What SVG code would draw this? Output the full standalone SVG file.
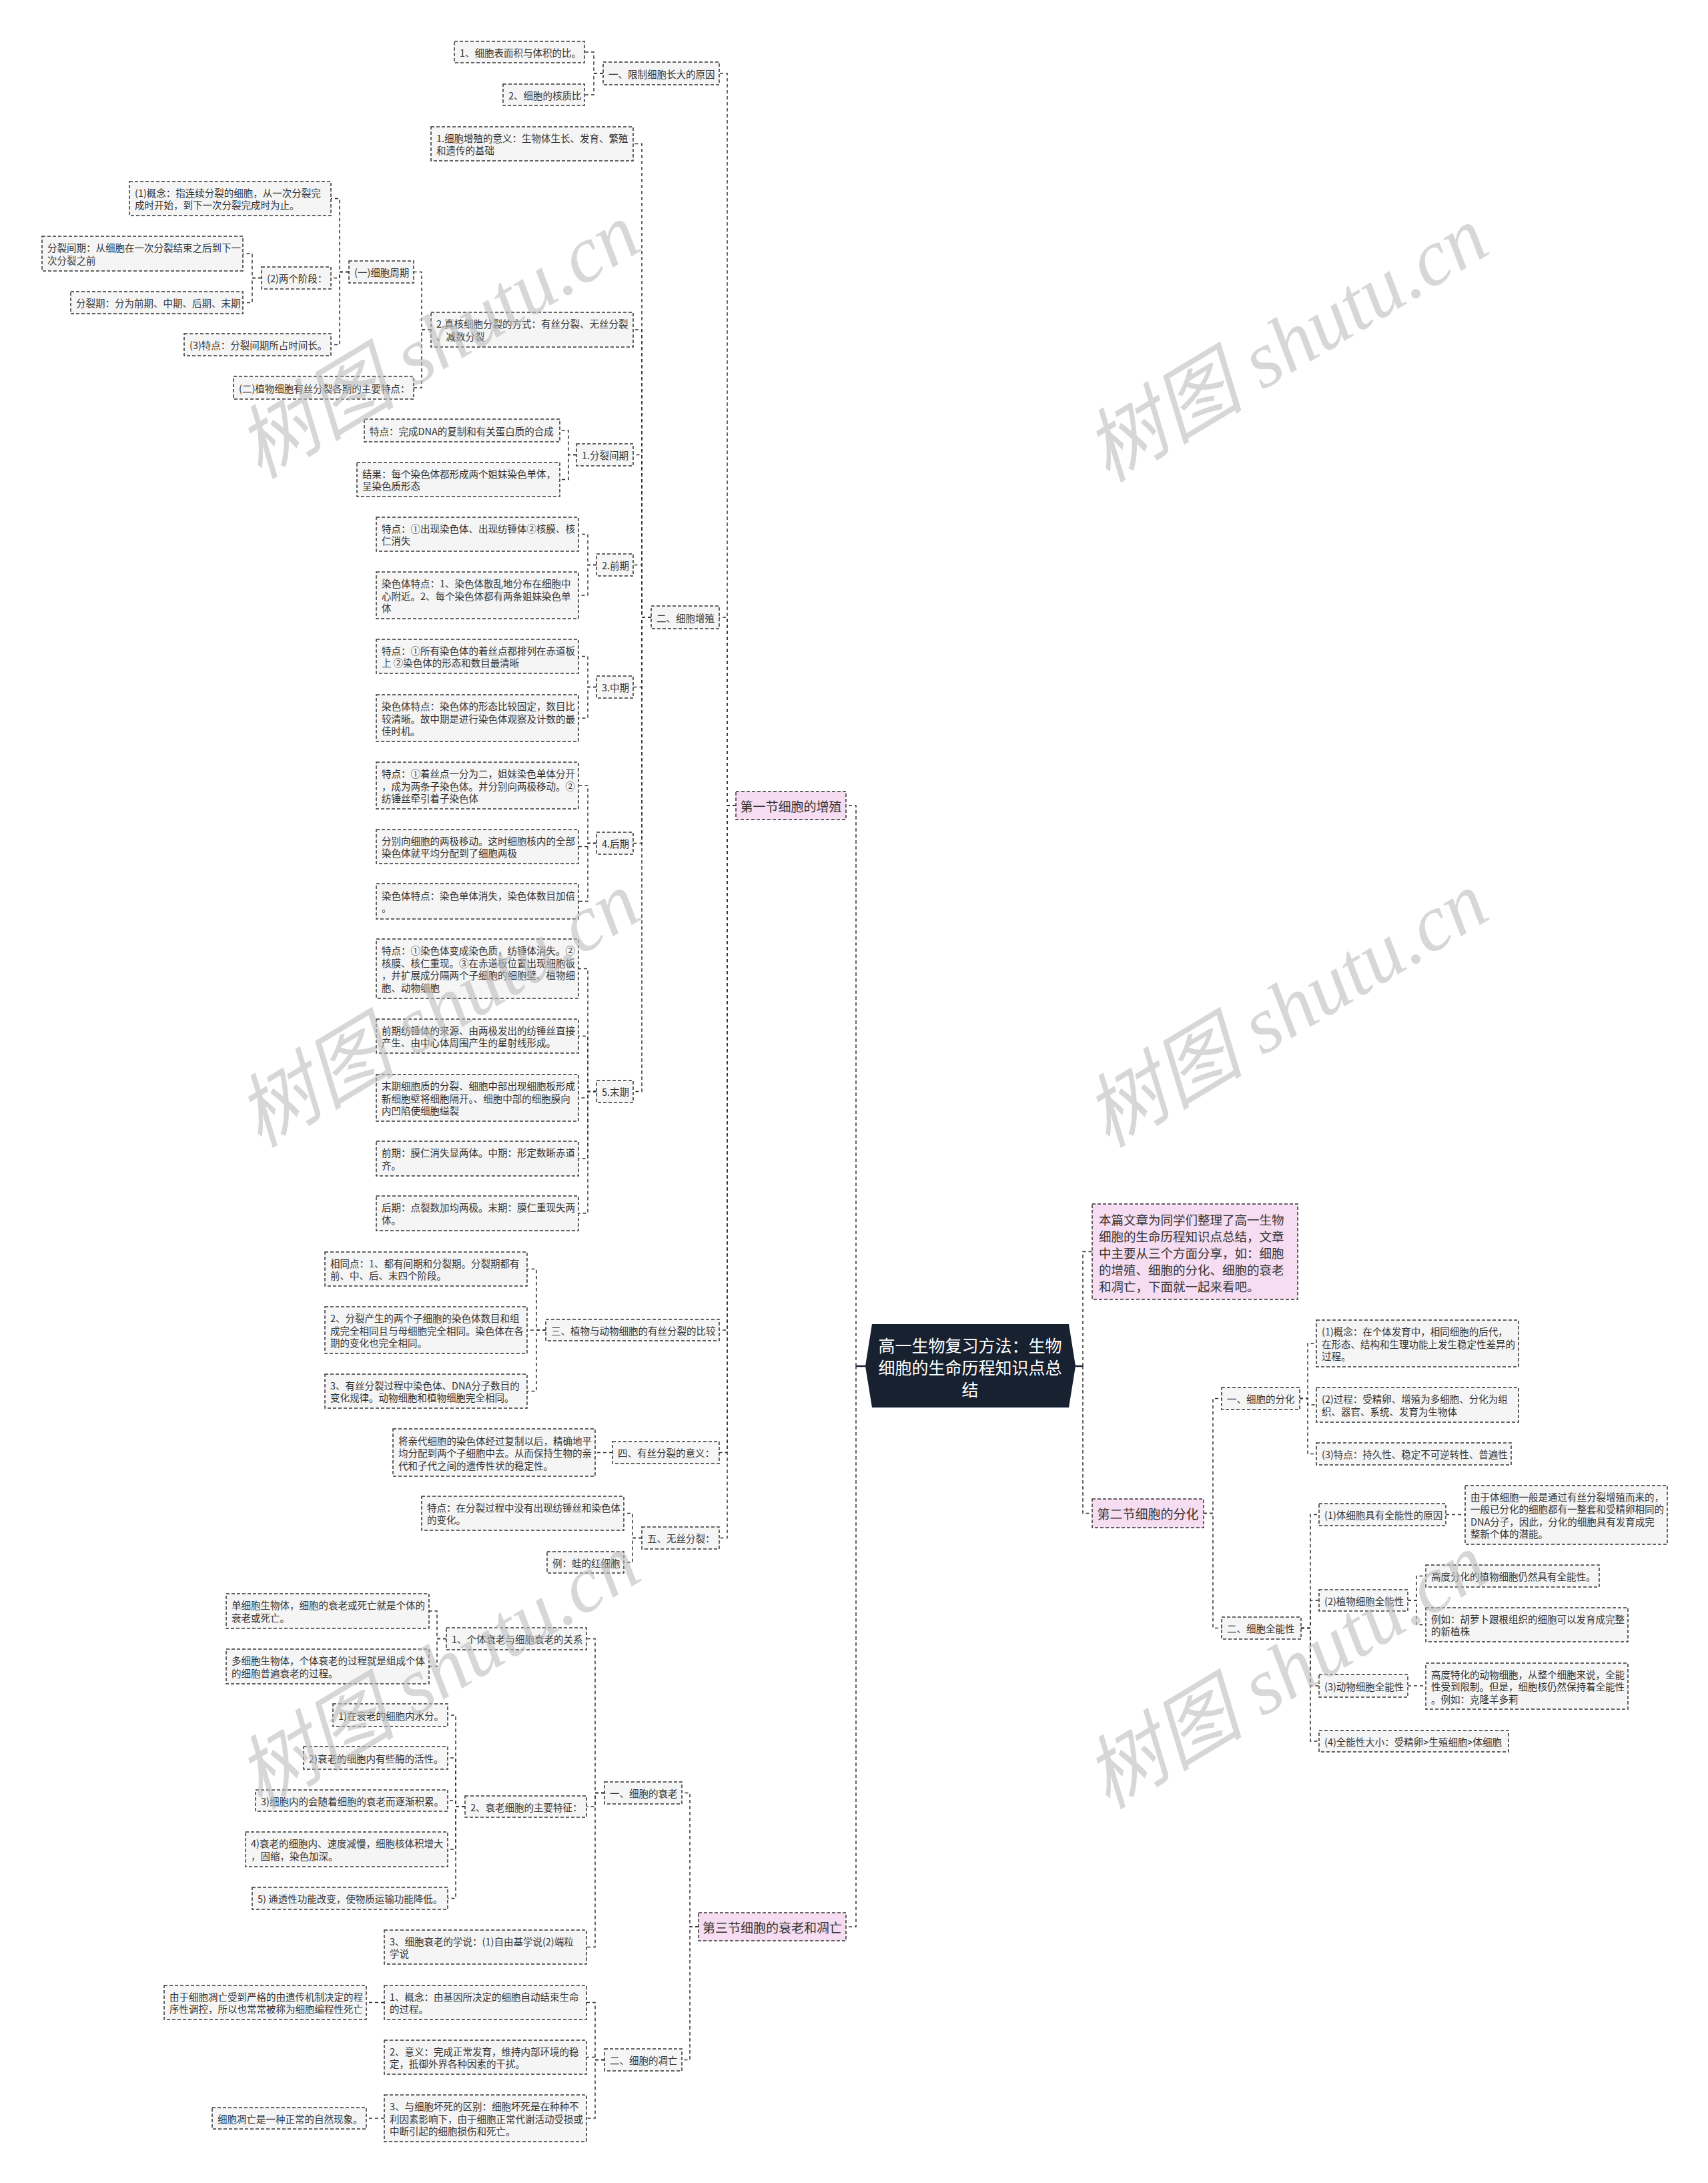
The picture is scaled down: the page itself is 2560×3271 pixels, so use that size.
<svg xmlns="http://www.w3.org/2000/svg" width="2560" height="3271" viewBox="0 0 2560 3271">
<style>
.n rect{fill:#f5f5f5;stroke:#333;stroke-width:1.5;stroke-dasharray:5 3}
.s rect{fill:#f7ddf1;stroke:#333;stroke-width:1.5;stroke-dasharray:5 3}
text{font-family:"Noto Sans CJK SC","Liberation Sans",sans-serif;dominant-baseline:central;fill:#333}
.n text{font-size:14.5px}
.s text{font-size:19px;text-anchor:middle}
.it text{font-size:18.5px;text-anchor:start}
.root text{font-size:25px;fill:#fff;text-anchor:middle}
#conn path{fill:none;stroke:#333;stroke-width:1.5;stroke-dasharray:5 4}
#conn path.solid{stroke:#172130;stroke-width:2.5;stroke-dasharray:none}
.wm text{font-size:120px;fill:#bdbdbd;fill-opacity:0.6;text-anchor:middle;font-family:"Liberation Serif","Noto Sans CJK SC",serif;font-style:italic}
</style>
<rect width="2560" height="3271" fill="#fff"/>
<g id="conn">
<path class="solid" d="M1297 2047H1283"/>
<path class="solid" d="M1612 2047H1623"/>
<path d="M1283 2047V1207H1268"/><path d="M1283 2047V2887H1268"/>
<path d="M1623 2047V1875.5H1637"/><path d="M1623 2047V2267.5H1637"/>
<path d="M1103 1207H1090V110H1078"/><path d="M1103 1207H1090V925H1078"/><path d="M1103 1207H1090V1993H1078"/><path d="M1103 1207H1090V2176.5H1078"/><path d="M1103 1207H1090V2304.5H1078"/>
<path d="M904 110H890V78H876"/><path d="M904 110H890V142H876"/>
<path d="M976 925H962V215.5H949"/><path d="M976 925H962V494H949"/><path d="M976 925H962V681.5H949"/><path d="M976 925H962V846.5H949"/><path d="M976 925H962V1029.5H949"/><path d="M976 925H962V1263.5H949"/><path d="M976 925H962V1635.5H949"/>
<path d="M646 494H632V407.5H620"/><path d="M646 494H632V581H620"/>
<path d="M523 407.5H509V297.5H496"/><path d="M523 407.5H509V416.5H496"/><path d="M523 407.5H509V516.5H496"/>
<path d="M392 416.5H378V380H364"/><path d="M392 416.5H378V453.5H364"/>
<path d="M864 681.5H852V645H839"/><path d="M864 681.5H852V718.5H839"/>
<path d="M894 846.5H881V800.5H867"/><path d="M894 846.5H881V892H867"/>
<path d="M894 1029.5H881V983.5H867"/><path d="M894 1029.5H881V1076H867"/>
<path d="M894 1263.5H881V1177H867"/><path d="M894 1263.5H881V1268.5H867"/><path d="M894 1263.5H881V1350.5H867"/>
<path d="M894 1635.5H881V1451.5H867"/><path d="M894 1635.5H881V1552.5H867"/><path d="M894 1635.5H881V1645H867"/><path d="M894 1635.5H881V1736H867"/><path d="M894 1635.5H881V1818H867"/>
<path d="M818 1993H804V1901.5H790"/><path d="M818 1993H804V1993H790"/><path d="M818 1993H804V2084.5H790"/>
<path d="M918 2176.5H892"/>
<path d="M962 2304.5H948V2267.5H935"/><path d="M962 2304.5H948V2341H935"/>
<path d="M1047 2887H1034V2686.5H1022"/><path d="M1047 2887H1034V3086.5H1022"/>
<path d="M906 2686.5H892V2455.5H879"/><path d="M906 2686.5H892V2707H879"/><path d="M906 2686.5H892V2917.5H879"/>
<path d="M669 2455.5H655V2414H643"/><path d="M669 2455.5H655V2497H643"/>
<path d="M697 2707H683V2570H671"/><path d="M697 2707H683V2634H671"/><path d="M697 2707H683V2698H671"/><path d="M697 2707H683V2771H671"/><path d="M697 2707H683V2844.5H671"/>
<path d="M906 3086.5H892V3000.5H879"/><path d="M906 3086.5H892V3082.5H879"/><path d="M906 3086.5H892V3174H879"/>
<path d="M576 3000.5H549"/><path d="M576 3174H549"/>
<path d="M1804 2267.5H1818V2095.5H1831"/><path d="M1804 2267.5H1818V2439.5H1831"/>
<path d="M1948 2095.5H1960V2013H1973"/><path d="M1948 2095.5H1960V2105H1973"/><path d="M1948 2095.5H1960V2178.5H1973"/>
<path d="M1950 2439.5H1964V2269.5H1977"/><path d="M1950 2439.5H1964V2398H1977"/><path d="M1950 2439.5H1964V2526H1977"/><path d="M1950 2439.5H1964V2609H1977"/>
<path d="M2167 2269.5H2196"/>
<path d="M2110 2398H2123V2361.5H2137"/><path d="M2110 2398H2123V2434.5H2137"/>
<path d="M2110 2526H2137"/>
</g>
<g id="root" class="root"><polygon points="1307,1984 1602,1984 1612,2047 1602,2109 1307,2109 1297,2047" fill="#172130"/><text x="1454" y="2015">高一生物复习方法：生物</text><text x="1454" y="2048">细胞的生命历程知识点总</text><text x="1454" y="2081">结</text></g>
<g id="intro" class="s it"><rect x="1637" y="1804" width="308" height="143"/><text x="1647" y="1827">本篇文章为同学们整理了高一生物</text><text x="1647" y="1852">细胞的生命历程知识点总结，文章</text><text x="1647" y="1877">中主要从三个方面分享，如：细胞</text><text x="1647" y="1902">的增殖、细胞的分化、细胞的衰老</text><text x="1647" y="1927">和凋亡，下面就一起来看吧。</text></g>
<g id="s1" class="s"><rect x="1103" y="1186" width="165" height="42"/><text x="1185.5" y="1207">第一节细胞的增殖</text></g>
<g id="s2" class="s"><rect x="1637" y="2246" width="167" height="43"/><text x="1720.5" y="2267.5">第二节细胞的分化</text></g>
<g id="s3" class="s"><rect x="1047" y="2866" width="221" height="42"/><text x="1157.5" y="2887">第三节细胞的衰老和凋亡</text></g>
<g id="A" class="n"><rect x="904" y="93" width="174" height="34"/><text x="912" y="110">一、限制细胞长大的原因</text></g>
<g id="A1" class="n"><rect x="681" y="62" width="195" height="32"/><text x="689" y="78">1、细胞表面积与体积的比。</text></g>
<g id="A2" class="n"><rect x="754" y="126" width="122" height="32"/><text x="762" y="142">2、细胞的核质比</text></g>
<g id="B" class="n"><rect x="976" y="908" width="102" height="34"/><text x="984" y="925">二、细胞增殖</text></g>
<g id="B1" class="n"><rect x="646" y="190" width="303" height="51"/><text x="654" y="206.25">1.细胞增殖的意义：生物体生长、发育、繁殖</text><text x="654" y="224.75">和遗传的基础</text></g>
<g id="B2" class="n"><rect x="646" y="468" width="303" height="52"/><text x="654" y="484.75">2.真核细胞分裂的方式：有丝分裂、无丝分裂</text><text x="654" y="503.25">、减数分裂</text></g>
<g id="C" class="n"><rect x="523" y="391" width="97" height="33"/><text x="531" y="407.5">(一)细胞周期</text></g>
<g id="C1" class="n"><rect x="194" y="272" width="302" height="51"/><text x="202" y="288.25">(1)概念：指连续分裂的细胞，从一次分裂完</text><text x="202" y="306.75">成时开始，到下一次分裂完成时为止。</text></g>
<g id="C2" class="n"><rect x="392" y="400" width="104" height="33"/><text x="400" y="416.5">(2)两个阶段：</text></g>
<g id="C2a" class="n"><rect x="63" y="354" width="301" height="52"/><text x="71" y="370.75">分裂间期：从细胞在一次分裂结束之后到下一</text><text x="71" y="389.25">次分裂之前</text></g>
<g id="C2b" class="n"><rect x="106" y="437" width="258" height="33"/><text x="114" y="453.5">分裂期：分为前期、中期、后期、末期</text></g>
<g id="C3" class="n"><rect x="276" y="500" width="220" height="33"/><text x="284" y="516.5">(3)特点：分裂间期所占时间长。</text></g>
<g id="C4" class="n"><rect x="350" y="564" width="270" height="34"/><text x="358" y="581">(二)植物细胞有丝分裂各期的主要特点：</text></g>
<g id="D1" class="n"><rect x="864" y="665" width="85" height="33"/><text x="872" y="681.5">1.分裂间期</text></g>
<g id="D1a" class="n"><rect x="546" y="628" width="293" height="34"/><text x="554" y="645">特点：完成DNA的复制和有关蛋白质的合成</text></g>
<g id="D1b" class="n"><rect x="535" y="693" width="304" height="51"/><text x="543" y="709.25">结果：每个染色体都形成两个姐妹染色单体，</text><text x="543" y="727.75">呈染色质形态</text></g>
<g id="D2" class="n"><rect x="894" y="830" width="55" height="33"/><text x="902" y="846.5">2.前期</text></g>
<g id="D2a" class="n"><rect x="564" y="775" width="303" height="51"/><text x="572" y="791.25">特点：①出现染色体、出现纺锤体②核膜、核</text><text x="572" y="809.75">仁消失</text></g>
<g id="D2b" class="n"><rect x="564" y="857" width="303" height="70"/><text x="572" y="873.5">染色体特点：1、染色体散乱地分布在细胞中</text><text x="572" y="892">心附近。2、每个染色体都有两条姐妹染色单</text><text x="572" y="910.5">体</text></g>
<g id="D3" class="n"><rect x="894" y="1013" width="55" height="33"/><text x="902" y="1029.5">3.中期</text></g>
<g id="D3a" class="n"><rect x="564" y="958" width="303" height="51"/><text x="572" y="974.25">特点：①所有染色体的着丝点都排列在赤道板</text><text x="572" y="992.75">上 ②染色体的形态和数目最清晰</text></g>
<g id="D3b" class="n"><rect x="564" y="1041" width="303" height="70"/><text x="572" y="1057.5">染色体特点：染色体的形态比较固定，数目比</text><text x="572" y="1076">较清晰。故中期是进行染色体观察及计数的最</text><text x="572" y="1094.5">佳时机。</text></g>
<g id="D4" class="n"><rect x="894" y="1247" width="55" height="33"/><text x="902" y="1263.5">4.后期</text></g>
<g id="D4a" class="n"><rect x="564" y="1142" width="303" height="70"/><text x="572" y="1158.5">特点：①着丝点一分为二，姐妹染色单体分开</text><text x="572" y="1177">，成为两条子染色体。并分别向两极移动。②</text><text x="572" y="1195.5">纺锤丝牵引着子染色体</text></g>
<g id="D4b" class="n"><rect x="564" y="1243" width="303" height="51"/><text x="572" y="1259.25">分别向细胞的两极移动。这时细胞核内的全部</text><text x="572" y="1277.75">染色体就平均分配到了细胞两极</text></g>
<g id="D4c" class="n"><rect x="564" y="1324" width="303" height="53"/><text x="572" y="1341.25">染色体特点：染色单体消失，染色体数目加倍</text><text x="572" y="1359.75">。</text></g>
<g id="D5" class="n"><rect x="894" y="1619" width="55" height="33"/><text x="902" y="1635.5">5.末期</text></g>
<g id="D5a" class="n"><rect x="564" y="1407" width="303" height="89"/><text x="572" y="1423.75">特点：①染色体变成染色质，纺锤体消失。②</text><text x="572" y="1442.25">核膜、核仁重现。③在赤道板位置出现细胞板</text><text x="572" y="1460.75">，并扩展成分隔两个子细胞的细胞壁、植物细</text><text x="572" y="1479.25">胞、动物细胞</text></g>
<g id="D5b" class="n"><rect x="564" y="1527" width="303" height="51"/><text x="572" y="1543.25">前期纺锤体的来源、由两极发出的纺锤丝直接</text><text x="572" y="1561.75">产生、由中心体周围产生的星射线形成。</text></g>
<g id="D5c" class="n"><rect x="564" y="1610" width="303" height="70"/><text x="572" y="1626.5">末期细胞质的分裂、细胞中部出现细胞板形成</text><text x="572" y="1645">新细胞壁将细胞隔开。、细胞中部的细胞膜向</text><text x="572" y="1663.5">内凹陷使细胞缢裂</text></g>
<g id="D5d" class="n"><rect x="564" y="1710" width="303" height="52"/><text x="572" y="1726.75">前期：膜仁消失显两体。中期：形定数晰赤道</text><text x="572" y="1745.25">齐。</text></g>
<g id="D5e" class="n"><rect x="564" y="1792" width="303" height="52"/><text x="572" y="1808.75">后期：点裂数加均两极。末期：膜仁重现失两</text><text x="572" y="1827.25">体。</text></g>
<g id="E" class="n"><rect x="818" y="1977" width="260" height="32"/><text x="826" y="1993">三、植物与动物细胞的有丝分裂的比较</text></g>
<g id="E1" class="n"><rect x="487" y="1876" width="303" height="51"/><text x="495" y="1892.25">相同点：1、都有间期和分裂期。分裂期都有</text><text x="495" y="1910.75">前、中、后、末四个阶段。</text></g>
<g id="E2" class="n"><rect x="487" y="1958" width="303" height="70"/><text x="495" y="1974.5">2、分裂产生的两个子细胞的染色体数目和组</text><text x="495" y="1993">成完全相同且与母细胞完全相同。染色体在各</text><text x="495" y="2011.5">期的变化也完全相同。</text></g>
<g id="E3" class="n"><rect x="487" y="2059" width="303" height="51"/><text x="495" y="2075.25">3、有丝分裂过程中染色体、DNA分子数目的</text><text x="495" y="2093.75">变化规律。动物细胞和植物细胞完全相同。</text></g>
<g id="F" class="n"><rect x="918" y="2160" width="160" height="33"/><text x="926" y="2176.5">四、有丝分裂的意义：</text></g>
<g id="F1" class="n"><rect x="589" y="2141" width="303" height="71"/><text x="597" y="2158">将亲代细胞的染色体经过复制以后，精确地平</text><text x="597" y="2176.5">均分配到两个子细胞中去。从而保持生物的亲</text><text x="597" y="2195">代和子代之间的遗传性状的稳定性。</text></g>
<g id="G" class="n"><rect x="962" y="2288" width="116" height="33"/><text x="970" y="2304.5">五、无丝分裂：</text></g>
<g id="G1" class="n"><rect x="632" y="2242" width="303" height="51"/><text x="640" y="2258.25">特点：在分裂过程中没有出现纺锤丝和染色体</text><text x="640" y="2276.75">的变化。</text></g>
<g id="G2" class="n"><rect x="820" y="2325" width="115" height="32"/><text x="828" y="2341">例：蛙的红细胞</text></g>
<g id="H" class="n"><rect x="906" y="2670" width="116" height="33"/><text x="914" y="2686.5">一、细胞的衰老</text></g>
<g id="H1" class="n"><rect x="669" y="2439" width="210" height="33"/><text x="677" y="2455.5">1、个体衰老与细胞衰老的关系</text></g>
<g id="H1a" class="n"><rect x="339" y="2388" width="304" height="52"/><text x="347" y="2404.75">单细胞生物体，细胞的衰老或死亡就是个体的</text><text x="347" y="2423.25">衰老或死亡。</text></g>
<g id="H1b" class="n"><rect x="339" y="2471" width="304" height="52"/><text x="347" y="2487.75">多细胞生物体，个体衰老的过程就是组成个体</text><text x="347" y="2506.25">的细胞普遍衰老的过程。</text></g>
<g id="H2" class="n"><rect x="697" y="2691" width="182" height="32"/><text x="705" y="2707">2、衰老细胞的主要特征：</text></g>
<g id="H2a" class="n"><rect x="499" y="2553" width="172" height="34"/><text x="507" y="2570">1)在衰老的细胞内水分。</text></g>
<g id="H2b" class="n"><rect x="455" y="2617" width="216" height="34"/><text x="463" y="2634">2)衰老的细胞内有些酶的活性。</text></g>
<g id="H2c" class="n"><rect x="383" y="2682" width="288" height="32"/><text x="391" y="2698">3)细胞内的会随着细胞的衰老而逐渐积累。</text></g>
<g id="H2d" class="n"><rect x="368" y="2745" width="303" height="52"/><text x="376" y="2761.75">4)衰老的细胞内、速度减慢，细胞核体积增大</text><text x="376" y="2780.25">，固缩，染色加深。</text></g>
<g id="H2e" class="n"><rect x="378" y="2828" width="293" height="33"/><text x="386" y="2844.5">5) 通透性功能改变，使物质运输功能降低。</text></g>
<g id="H3" class="n"><rect x="576" y="2892" width="303" height="51"/><text x="584" y="2908.25">3、细胞衰老的学说：(1)自由基学说(2)端粒</text><text x="584" y="2926.75">学说</text></g>
<g id="I" class="n"><rect x="906" y="3070" width="116" height="33"/><text x="914" y="3086.5">二、细胞的凋亡</text></g>
<g id="I1" class="n"><rect x="576" y="2975" width="303" height="51"/><text x="584" y="2991.25">1、概念：由基因所决定的细胞自动结束生命</text><text x="584" y="3009.75">的过程。</text></g>
<g id="I1a" class="n"><rect x="246" y="2975" width="303" height="51"/><text x="254" y="2991.25">由于细胞凋亡受到严格的由遗传机制决定的程</text><text x="254" y="3009.75">序性调控，所以也常常被称为细胞编程性死亡</text></g>
<g id="I2" class="n"><rect x="576" y="3057" width="303" height="51"/><text x="584" y="3073.25">2、意义：完成正常发育，维持内部环境的稳</text><text x="584" y="3091.75">定，抵御外界各种因素的干扰。</text></g>
<g id="I3" class="n"><rect x="576" y="3139" width="303" height="70"/><text x="584" y="3155.5">3、与细胞坏死的区别：细胞坏死是在种种不</text><text x="584" y="3174">利因素影响下，由于细胞正常代谢活动受损或</text><text x="584" y="3192.5">中断引起的细胞损伤和死亡。</text></g>
<g id="I3a" class="n"><rect x="318" y="3158" width="231" height="32"/><text x="326" y="3174">细胞凋亡是一种正常的自然现象。</text></g>
<g id="R1" class="n"><rect x="1831" y="2079" width="117" height="33"/><text x="1839" y="2095.5">一、细胞的分化</text></g>
<g id="R1a" class="n"><rect x="1973" y="1978" width="303" height="70"/><text x="1981" y="1994.5">(1)概念：在个体发育中，相同细胞的后代，</text><text x="1981" y="2013">在形态、结构和生理功能上发生稳定性差异的</text><text x="1981" y="2031.5">过程。</text></g>
<g id="R1b" class="n"><rect x="1973" y="2079" width="303" height="52"/><text x="1981" y="2095.75">(2)过程：受精卵、增殖为多细胞、分化为组</text><text x="1981" y="2114.25">织、器官、系统、发育为生物体</text></g>
<g id="R1c" class="n"><rect x="1973" y="2162" width="292" height="33"/><text x="1981" y="2178.5">(3)特点：持久性、稳定不可逆转性、普遍性</text></g>
<g id="R2" class="n"><rect x="1831" y="2423" width="119" height="33"/><text x="1839" y="2439.5">二、细胞全能性</text></g>
<g id="R2a" class="n"><rect x="1977" y="2253" width="190" height="33"/><text x="1985" y="2269.5">(1)体细胞具有全能性的原因</text></g>
<g id="R2a1" class="n"><rect x="2196" y="2226" width="303" height="88"/><text x="2204" y="2242.25">由于体细胞一般是通过有丝分裂增殖而来的，</text><text x="2204" y="2260.75">一般已分化的细胞都有一整套和受精卵相同的</text><text x="2204" y="2279.25">DNA分子，因此，分化的细胞具有发育成完</text><text x="2204" y="2297.75">整新个体的潜能。</text></g>
<g id="R2b" class="n"><rect x="1977" y="2382" width="133" height="32"/><text x="1985" y="2398">(2)植物细胞全能性</text></g>
<g id="R2b1" class="n"><rect x="2137" y="2345" width="260" height="33"/><text x="2145" y="2361.5">高度分化的植物细胞仍然具有全能性。</text></g>
<g id="R2b2" class="n"><rect x="2137" y="2409" width="303" height="51"/><text x="2145" y="2425.25">例如：胡萝卜跟根组织的细胞可以发育成完整</text><text x="2145" y="2443.75">的新植株</text></g>
<g id="R2c" class="n"><rect x="1977" y="2509" width="133" height="34"/><text x="1985" y="2526">(3)动物细胞全能性</text></g>
<g id="R2c1" class="n"><rect x="2137" y="2492" width="303" height="69"/><text x="2145" y="2508">高度特化的动物细胞，从整个细胞来说，全能</text><text x="2145" y="2526.5">性受到限制。但是，细胞核仍然保持着全能性</text><text x="2145" y="2545">。例如：克隆羊多莉</text></g>
<g id="R2d" class="n"><rect x="1977" y="2593" width="284" height="32"/><text x="1985" y="2609">(4)全能性大小：受精卵&gt;生殖细胞&gt;体细胞</text></g>
<g class="wm">
<text transform="translate(657,511) rotate(-31)">树图 shutu.cn</text>
<text transform="translate(1928,516) rotate(-31)">树图 shutu.cn</text>
<text transform="translate(657,1513) rotate(-31)">树图 shutu.cn</text>
<text transform="translate(1928,1513) rotate(-31)">树图 shutu.cn</text>
<text transform="translate(657,2504) rotate(-31)">树图 shutu.cn</text>
<text transform="translate(1928,2504) rotate(-31)">树图 shutu.cn</text>
</g>
</svg>
